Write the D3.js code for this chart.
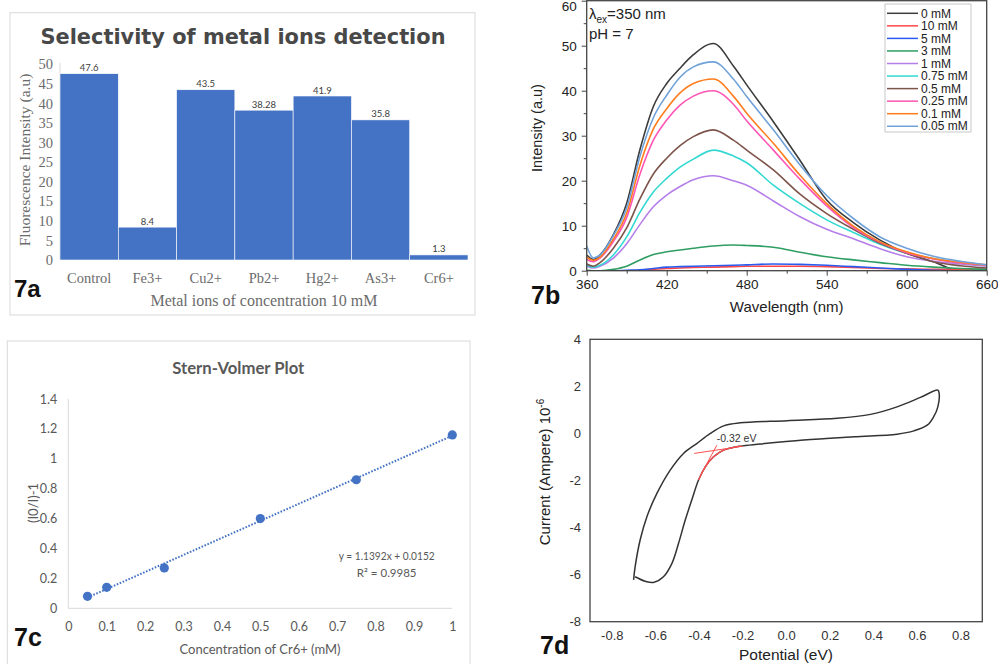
<!DOCTYPE html>
<html><head><meta charset="utf-8">
<script src="https://cdn.jsdelivr.net/npm/d3@7"></script>
<style>body{margin:0;background:#fff;} svg{display:block;}</style>
</head><body>
<svg id="fig" width="998" height="664"></svg>
<script>
// ---------- 7a : selectivity bar chart ----------
const metalIons = ["Control","Fe3+","Cu2+","Pb2+","Hg2+","As3+","Cr6+"];
const ionIntensity = [47.6, 8.4, 43.5, 38.28, 41.9, 35.8, 1.3];
const ionValueLabels = ["47.6","8.4","43.5","38.28","41.9","35.8","1.3"];
const barTicks = [0,5,10,15,20,25,30,35,40,45,50];

// ---------- 7b : emission spectra ----------
const wavelengths = [360,365,370,380,390,400,410,420,430,440,455,470,480,500,520,540,560,580,600,620,640,660];
const concNames = ["0 mM","10 mM","5 mM","3 mM","1 mM","0.75 mM","0.5 mM","0.25 mM","0.1 mM","0.05 mM"];
const spec_0    = [3.5,2.5,3.5,8,15,27,36.5,41.6,45,48,50.5,45.5,41.3,33.1,24.5,15.7,10.7,6.8,3.9,2,0,0];
const spec_10   = [0,0,0,0,0,0.1,0.3,0.5,0.6,0.7,0.8,0.9,1,1,1,0.9,0.7,0.5,0.4,0.3,0.3,0.3];
const spec_5    = [0,0,0,0,0.1,0.2,0.5,0.8,0.9,1,1.1,1.2,1.3,1.5,1.4,1.2,0.9,0.6,0.3,0.1,0,0];
const spec_3    = [0.1,0,0,0.3,1,2.4,3.6,4.2,4.6,5,5.5,5.7,5.6,5.2,4.1,3.1,2.4,1.8,1.2,0.8,0.5,0.3];
const spec_1    = [1,0.6,1,2.8,6,10.3,14.2,16.8,18.7,20.2,21.1,20,19,15.5,12,9.2,7.1,4.9,3.1,2.1,1.5,1];
const spec_075  = [1.2,0.8,1.2,3.5,7.5,13,17.5,20.5,23,24.8,26.8,25.5,24,19,14.9,11.3,8.5,5.9,3.9,2.7,1.8,1.2];
const spec_05   = [1.5,1,1.8,5,9.5,16,21.5,25,27.8,29.8,31.3,29,26.8,22.4,17,12.7,9.2,6.1,3.9,2,1.1,0.6];
const spec_025  = [2.5,2,2.8,6.5,11.8,21.5,29,33.5,36.8,38.8,40,37,33.3,26.8,20.3,14.4,9.6,6.3,4,2.6,1.7,1.2];
const spec_01   = [3,2.3,3,7,12.8,23.5,31.5,36,39.5,41.6,42.6,38.8,35,28.3,21.2,14.9,9.9,6.4,4.2,2.7,1.9,1.3];
const spec_005  = [5.5,2.8,3.5,7.8,14,25.5,34,39,43,45.3,46.4,42.6,38.7,31.3,23.5,16.7,11.6,7.5,5,3.2,2.1,1.3];
const specTicksX = [360,420,480,540,600,660];
const specMinorX = [390,450,510,570,630];
const specTicksY = [0,10,20,30,40,50,60];
const specMinorY = [5,15,25,35,45,55];

// ---------- 7c : Stern-Volmer ----------
const crConc = [0.05, 0.1, 0.25, 0.5, 0.75, 1];
const quenchRatio = [0.08, 0.14, 0.27, 0.60, 0.86, 1.16];
const fitSlope = 1.1392, fitIntercept = 0.0152;
const svTicksX = [0,0.1,0.2,0.3,0.4,0.5,0.6,0.7,0.8,0.9,1];
const svTickLabelsX = ["0","0.1","0.2","0.3","0.4","0.5","0.6","0.7","0.8","0.9","1"];
const svTicksY = [0,0.2,0.4,0.6,0.8,1,1.2,1.4];
const svTickLabelsY = ["0","0.2","0.4","0.6","0.8","1","1.2","1.4"];

// ---------- 7d : cyclic voltammogram ----------
const cvPotential = [-0.700,-0.693,-0.670,-0.639,-0.593,-0.532,-0.471,-0.410,-0.348,-0.287,-0.211,0.004,0.234,0.387,0.509,0.616,0.696,
                     0.702,0.696,0.677,0.647,0.586,0.509,0.310,0.080,-0.119,-0.211,-0.287,-0.333,-0.371,-0.402,-0.433,-0.463,-0.494,-0.524,-0.563,-0.609,-0.647,-0.693];
const cvCurrent   = [-6.22,-5.67,-4.53,-3.54,-2.55,-1.56,-0.85,-0.43,0.00,0.32,0.45,0.54,0.64,0.81,1.13,1.53,1.84,
                     1.70,1.13,0.71,0.35,0.11,-0.03,-0.14,-0.28,-0.45,-0.54,-0.71,-0.99,-1.42,-1.98,-2.83,-3.68,-4.68,-5.52,-6.09,-6.33,-6.28,-6.09];
const cvTangentA = [[-0.422,-0.85],[-0.198,-0.54]];
const cvTangentB = [[-0.390,-1.73],[-0.318,-0.50]];
const cvOnset = "-0.32 eV";
const cvTicksX = [-0.8,-0.6,-0.4,-0.2,0,0.2,0.4,0.6,0.8];
const cvTickLabelsX = ["-0.8","-0.6","-0.4","-0.2","0.0","0.2","0.4","0.6","0.8"];
const cvTicksY = [-8,-6,-4,-2,0,2,4];
const cvTickLabelsY = ["-8","-6","-4","-2","0","2","4"];

const svg = d3.select("#fig");
const SERIF = "'Liberation Serif','Times New Roman',serif";
const SANS = "'Liberation Sans',Arial,sans-serif";
const CAL = "Lato,'Open Sans',sans-serif";

// ================= 7a =================
(function(){
  const g = svg.append("g");
  g.append("rect").attr("x",10).attr("y",12.7).attr("width",465).attr("height",302.3)
    .attr("fill","none").attr("stroke","#d9d9d9");
  const x = d3.scaleBand().domain(metalIons).range([60,468]).padding(0);
  const y = d3.scaleLinear().domain([0,50]).range([260,64.3]);
  g.append("text").attr("x",243).attr("y",44).attr("text-anchor","middle")
    .attr("font-family","'DejaVu Sans',sans-serif").attr("font-weight","bold").attr("font-size",22)
    .attr("fill","#484848").attr("textLength",405).attr("lengthAdjust","spacingAndGlyphs")
    .text("Selectivity of metal ions detection");
  g.append("line").attr("x1",60).attr("x2",60).attr("y1",63).attr("y2",260).attr("stroke","#d9d9d9");
  g.selectAll("rect.bar").data(ionIntensity).join("rect").attr("class","bar")
    .attr("x",(d,i)=>x(metalIons[i])).attr("width",x.bandwidth())
    .attr("y",d=>y(d)).attr("height",d=>y(0)-y(d))
    .attr("fill","#4472C4").attr("stroke","#ffffff").attr("stroke-width",0.6);
  g.selectAll("text.val").data(ionIntensity).join("text").attr("class","val")
    .attr("x",(d,i)=>x(metalIons[i])+x.bandwidth()/2).attr("y",d=>y(d)-2.5)
    .attr("text-anchor","middle").attr("font-family",CAL).attr("font-size",9.5).attr("fill","#404040")
    .text((d,i)=>ionValueLabels[i]);
  const ya = g.append("g").attr("transform","translate(60,0)")
    .call(d3.axisLeft(y).tickValues(barTicks).tickSize(0).tickPadding(7).tickFormat(d=>String(d)));
  ya.select(".domain").remove();
  ya.selectAll("text").attr("font-family",SERIF).attr("font-size",14.5).attr("fill","#6b6b6b");
  const xa = g.append("g").attr("transform","translate(0,260)")
    .call(d3.axisBottom(x).tickSize(0).tickPadding(13));
  xa.select(".domain").remove();
  xa.selectAll("text").attr("font-family",SERIF).attr("font-size",14.5).attr("fill","#6b6b6b");
  g.append("text").attr("x",264).attr("y",306).attr("text-anchor","middle")
    .attr("font-family",SERIF).attr("font-size",16).attr("fill","#6b6b6b")
    .text("Metal ions of concentration 10 mM");
  g.append("text").attr("transform","translate(30,160) rotate(-90)").attr("text-anchor","middle")
    .attr("font-family",SERIF).attr("font-size",15.5).attr("fill","#6b6b6b")
    .text("Fluorescence Intensity (a.u)");
  g.append("text").attr("x",14).attr("y",297).attr("font-family",SANS).attr("font-weight","bold")
    .attr("font-size",24).attr("fill","#111").text("7a");
})();

// ================= 7b =================
(function(){
  const g = svg.append("g");
  const x = d3.scaleLinear().domain([360,660]).range([586.7,986.7]);
  const y = d3.scaleLinear().domain([0,60]).range([270.7,0.7]);
  const series = [spec_0,spec_10,spec_5,spec_3,spec_1,spec_075,spec_05,spec_025,spec_01,spec_005];
  const colors = ["#3c3c3c","#ff4747","#2a5bf0","#2f9e62","#b57ee8","#33d8d2","#7d544b","#ff55b4","#ff7d1f","#70a2da"];
  g.append("clipPath").attr("id","clipB").append("rect").attr("x",586.7).attr("y",0.7).attr("width",400).attr("height",270);
  const line = d3.line().x((d,i)=>x(wavelengths[i])).y(d=>y(d)).curve(d3.curveMonotoneX);
  g.append("g").attr("clip-path","url(#clipB)").selectAll("path").data(series).join("path")
    .attr("d",line).attr("fill","none").attr("stroke",(d,i)=>colors[i]).attr("stroke-width",1.6);
  // axes
  const ya = g.append("g").attr("transform","translate(586.7,0)")
    .call(d3.axisLeft(y).tickValues(specTicksY).tickSize(5).tickPadding(5).tickFormat(d=>String(d)));
  ya.select(".domain").remove();
  ya.selectAll("text").attr("font-family",SANS).attr("font-size",13.5).attr("fill","#222")
    .attr("dy",d=>d===60?"0.72em":"0.32em");
  ya.selectAll("line").attr("stroke","#444");
  g.append("g").attr("transform","translate(586.7,0)")
    .call(d3.axisLeft(y).tickValues(specMinorY).tickSize(3).tickFormat(""))
    .call(s=>{s.select(".domain").remove(); s.selectAll("line").attr("stroke","#444");});
  const xa = g.append("g").attr("transform","translate(0,270.7)")
    .call(d3.axisBottom(x).tickValues(specTicksX).tickSize(5).tickPadding(4).tickFormat(d=>String(d)));
  xa.select(".domain").remove();
  xa.selectAll("text").attr("font-family",SANS).attr("font-size",13.5).attr("fill","#222");
  xa.selectAll("line").attr("stroke","#444");
  g.append("g").attr("transform","translate(0,270.7)")
    .call(d3.axisBottom(x).tickValues(specMinorX).tickSize(3).tickFormat(""))
    .call(s=>{s.select(".domain").remove(); s.selectAll("line").attr("stroke","#444");});
  g.append("rect").attr("x",586.7).attr("y",0.7).attr("width",400).attr("height",270)
    .attr("fill","none").attr("stroke","#444").attr("stroke-width",1.3);
  // annotations
  const t = g.append("text").attr("x",589).attr("y",18.5).attr("font-family",SANS).attr("font-size",15).attr("fill","#222");
  t.append("tspan").text("λ");
  t.append("tspan").attr("dy",4).attr("font-size",10).text("ex");
  t.append("tspan").attr("dy",-4).text("=350 nm");
  g.append("text").attr("x",589).attr("y",38.5).attr("font-family",SANS).attr("font-size",15).attr("fill","#222").text("pH = 7");
  // legend
  g.append("rect").attr("x",885).attr("y",4).attr("width",86).attr("height",128)
    .attr("fill","#fff").attr("stroke","#c8c8c8").attr("stroke-width",1);
  const lg = g.selectAll("g.leg").data(concNames).join("g").attr("class","leg")
    .attr("transform",(d,i)=>`translate(0,${13.3+i*12.55})`);
  lg.append("line").attr("x1",887).attr("x2",918).attr("stroke",(d,i)=>colors[i]).attr("stroke-width",1.5);
  lg.append("text").attr("x",921).attr("y",4.2).attr("font-family",SANS).attr("font-size",12).attr("fill","#222").text(d=>d);
  // titles
  g.append("text").attr("x",786.7).attr("y",312).attr("text-anchor","middle").attr("font-family",SANS)
    .attr("font-size",15).attr("fill","#222").text("Wavelength (nm)");
  g.append("text").attr("transform","translate(542,128) rotate(-90)").attr("text-anchor","middle")
    .attr("font-family",SANS).attr("font-size",14.5).attr("fill","#222").text("Intensity (a.u)");
  g.append("text").attr("x",531).attr("y",304).attr("font-family",SANS).attr("font-weight","bold")
    .attr("font-size",25).attr("fill","#111").text("7b");
})();

// ================= 7c =================
(function(){
  const g = svg.append("g");
  g.append("rect").attr("x",7.3).attr("y",341).attr("width",462.7).attr("height",340)
    .attr("fill","none").attr("stroke","#d9d9d9");
  const x = d3.scaleLinear().domain([0,1]).range([68.3,452.3]);
  const y = d3.scaleLinear().domain([0,1.4]).range([608.3,399]);
  g.append("text").attr("x",238.3).attr("y",373.5).attr("text-anchor","middle").attr("font-family",CAL)
    .attr("font-weight","bold").attr("font-size",17).attr("fill","#595959")
    .attr("textLength",132).attr("lengthAdjust","spacingAndGlyphs").text("Stern-Volmer Plot");
  g.append("line").attr("x1",x(0)).attr("x2",x(0)).attr("y1",y(1.4)).attr("y2",y(0)).attr("stroke","#d9d9d9");
  g.append("line").attr("x1",x(0)).attr("x2",x(1)).attr("y1",y(0)).attr("y2",y(0)).attr("stroke","#d9d9d9");
  const ya = g.append("g").attr("transform",`translate(${x(0)},0)`)
    .call(d3.axisLeft(y).tickValues(svTicksY).tickSize(0).tickPadding(11).tickFormat((d,i)=>svTickLabelsY[i]));
  ya.select(".domain").remove();
  ya.selectAll("text").attr("font-family",CAL).attr("font-size",12.5).attr("fill","#595959");
  const xa = g.append("g").attr("transform",`translate(0,${y(0)})`)
    .call(d3.axisBottom(x).tickValues(svTicksX).tickSize(0).tickPadding(14).tickFormat((d,i)=>svTickLabelsX[i]));
  xa.select(".domain").remove();
  xa.selectAll("text").attr("font-family",CAL).attr("font-size",12.5).attr("fill","#595959");
  const x0 = d3.min(crConc), x1 = d3.max(crConc);
  g.append("line").attr("x1",x(x0)).attr("y1",y(fitSlope*x0+fitIntercept))
    .attr("x2",x(x1)).attr("y2",y(fitSlope*x1+fitIntercept))
    .attr("stroke","#4472C4").attr("stroke-width",2).attr("stroke-dasharray","1.6,1.6");
  g.selectAll("circle").data(crConc).join("circle")
    .attr("cx",d=>x(d)).attr("cy",(d,i)=>y(quenchRatio[i])).attr("r",4.6).attr("fill","#4472C4");
  g.append("text").attr("x",386.7).attr("y",560).attr("text-anchor","middle").attr("font-family",CAL)
    .attr("font-size",11.5).attr("fill","#595959").attr("textLength",96).attr("lengthAdjust","spacingAndGlyphs")
    .text(`y = ${fitSlope}x + ${fitIntercept}`);
  g.append("text").attr("x",386.7).attr("y",577).attr("text-anchor","middle").attr("font-family",CAL)
    .attr("font-size",11.5).attr("fill","#595959").text("R² = 0.9985");
  g.append("text").attr("x",260).attr("y",654).attr("text-anchor","middle").attr("font-family",CAL)
    .attr("font-size",13).attr("fill","#595959").text("Concentration of Cr6+ (mM)");
  g.append("text").attr("transform","translate(38,503) rotate(-90)").attr("text-anchor","middle")
    .attr("font-family",CAL).attr("font-size",13).attr("fill","#595959").text("(I0/I)-1");
  g.append("text").attr("x",14).attr("y",646).attr("font-family",SANS).attr("font-weight","bold")
    .attr("font-size",25).attr("fill","#111").text("7c");
})();

// ================= 7d =================
(function(){
  const g = svg.append("g");
  const x = d3.scaleLinear().domain([-0.9,0.9]).range([590,982.3]);
  const y = d3.scaleLinear().domain([-8,4]).range([621.7,339.3]);
  g.append("rect").attr("x",590).attr("y",339.3).attr("width",392.3).attr("height",282.4)
    .attr("fill","none").attr("stroke","#444").attr("stroke-width",1.3);
  const ya = g.append("g").attr("transform","translate(590,0)")
    .call(d3.axisLeft(y).tickValues(cvTicksY).tickSize(0).tickPadding(9).tickFormat((d,i)=>cvTickLabelsY[i]));
  ya.select(".domain").remove();
  ya.selectAll("text").attr("font-family",SANS).attr("font-size",13).attr("fill","#333");
  const xa = g.append("g").attr("transform","translate(0,621.7)")
    .call(d3.axisBottom(x).tickValues(cvTicksX).tickSize(0).tickPadding(9.5).tickFormat((d,i)=>cvTickLabelsX[i]));
  xa.select(".domain").remove();
  xa.selectAll("text").attr("font-family",SANS).attr("font-size",13).attr("fill","#333");
  const pts = cvPotential.map((v,i)=>[v,cvCurrent[i]]);
  const line = d3.line().x(d=>x(d[0])).y(d=>y(d[1])).curve(d3.curveCatmullRom.alpha(0.5));
  g.append("path").attr("d",line(pts)).attr("fill","none").attr("stroke","#333").attr("stroke-width",1.5);
  // red onset overlay on the return branch
  const lowerStart = cvPotential.indexOf(d3.max(cvPotential));
  const red = pts.slice(lowerStart).filter(p=>p[0]<=-0.19 && p[0]>=-0.41);
  g.append("path").attr("d",line(red)).attr("fill","none").attr("stroke","#ff5050").attr("stroke-width",1.3);
  [cvTangentA,cvTangentB].forEach(t=>{
    g.append("line").attr("x1",x(t[0][0])).attr("y1",y(t[0][1])).attr("x2",x(t[1][0])).attr("y2",y(t[1][1]))
      .attr("stroke","#ff5050").attr("stroke-width",1);
  });
  g.append("text").attr("x",716.7).attr("y",441.7).attr("font-family",SANS).attr("font-size",10.5)
    .attr("fill","#333").text(cvOnset);
  const yt = g.append("text").attr("transform","translate(550,472) rotate(-90)").attr("text-anchor","middle")
    .attr("font-family",SANS).attr("font-size",15).attr("fill","#222");
  yt.append("tspan").text("Current (Ampere) 10");
  yt.append("tspan").attr("dy",-6).attr("font-size",10).text("-6");
  g.append("text").attr("x",786).attr("y",660).attr("text-anchor","middle").attr("font-family",SANS)
    .attr("font-size",15.5).attr("fill","#222").text("Potential (eV)");
  g.append("text").attr("x",540).attr("y",654).attr("font-family",SANS).attr("font-weight","bold")
    .attr("font-size",25).attr("fill","#111").text("7d");
})();
</script>
</body></html>
